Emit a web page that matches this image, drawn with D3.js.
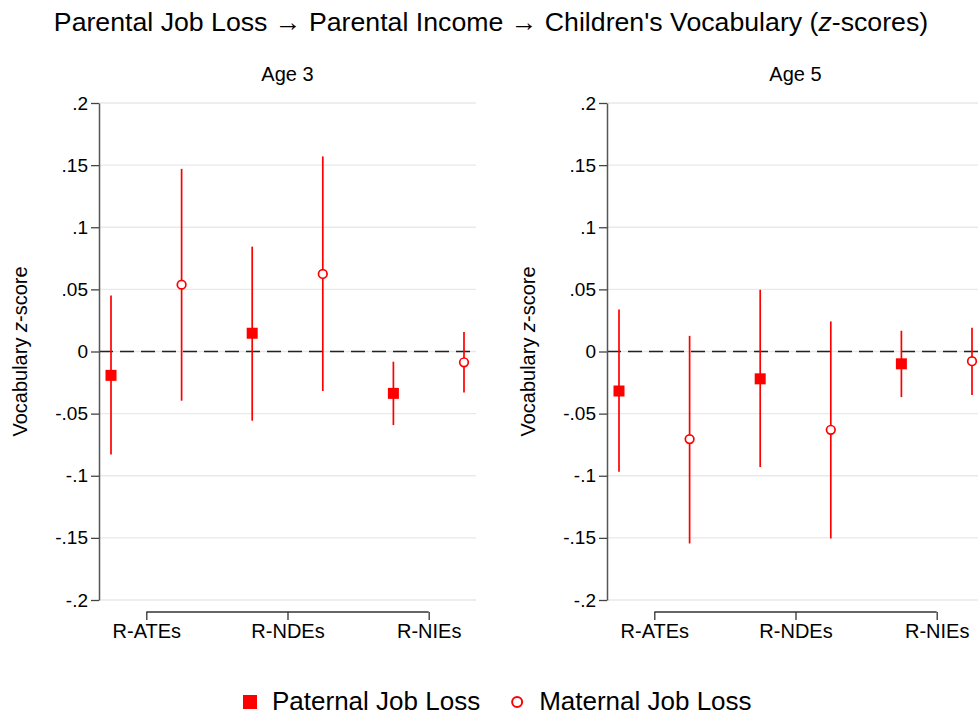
<!DOCTYPE html>
<html>
<head>
<meta charset="utf-8">
<script src="https://cdn.jsdelivr.net/npm/d3@7"></script>
<style>
body { margin: 0; background: #fff; }
text { font-family: "Liberation Sans", Arial, Helvetica, sans-serif; fill: #000; }
</style>
</head>
<body>
<svg id="chart" width="978" height="716"></svg>
<script>
// values
var panels = ["Age 3", "Age 5"];
var categories = ["R-ATEs", "R-NDEs", "R-NIEs"];
var yTicks = [-0.2, -0.15, -0.1, -0.05, 0, 0.05, 0.1, 0.15, 0.2];

var paternalEst = [[-0.0192, 0.0147, -0.0337], [-0.0318, -0.0220, -0.0099]];
var paternalLo  = [[-0.0828, -0.0557, -0.0592], [-0.0967, -0.0930, -0.0367]];
var paternalHi  = [[ 0.0450,  0.0844, -0.0082], [ 0.0338,  0.0497,  0.0167]];

var maternalEst = [[ 0.0538,  0.0624, -0.0087], [-0.0705, -0.0630, -0.0078]];
var maternalLo  = [[-0.0396, -0.0318, -0.0329], [-0.1545, -0.1505, -0.0350]];
var maternalHi  = [[ 0.1470,  0.1570,  0.0157], [ 0.0126,  0.0242,  0.0191]];

var seriesNames = ["Paternal Job Loss", "Maternal Job Loss"];

var svg = d3.select("#chart");
var red = "#ff0000";

// title
var title = svg.append("text")
	.attr("x", 491).attr("y", 31)
	.attr("text-anchor", "middle")
	.style("font-size", "26.7px")
title.append("tspan").text("Parental Job Loss \u2192 Parental Income \u2192  Children's Vocabulary (")
title.append("tspan").style("font-style", "italic").text("z")
title.append("tspan").text("-scores)")

var panelLeft = [99, 607];
var panelW = 377;
var plotTop = 103, plotBottom = 600;

var y = d3.scaleLinear().domain([-0.2, 0.2]).range([plotBottom, plotTop]);
var fmt = function(d) {
	if (Math.abs(d) < 1e-9) return "0";
	return String(+d.toFixed(2)).replace("0.", ".");
}

panels.forEach(function(p, pi) {
	var x = d3.scaleLinear().domain([0.83, 6.17]).range([panelLeft[pi], panelLeft[pi] + panelW]);
	var g = svg.append("g");

	g.append("text")
		.attr("x", (x.range()[0] + x.range()[1]) / 2).attr("y", 81)
		.attr("text-anchor", "middle")
		.style("font-size", "20px")
		.text(p)

	// grid
	g.selectAll("line.grid").data(yTicks).enter().append("line")
		.attr("class", "grid")
		.attr("x1", x.range()[0]).attr("x2", x.range()[1])
		.attr("y1", function(d) { return y(d) }).attr("y2", function(d) { return y(d) })
		.attr("stroke", "#e9e9e9")
		.attr("stroke-width", 1.3)

	// zero line
	g.append("line")
		.attr("x1", x.range()[0]).attr("x2", x.range()[1])
		.attr("y1", y(0)).attr("y2", y(0))
		.attr("stroke", "#222")
		.attr("stroke-width", 1.3)
		.attr("stroke-dasharray", "14,7")

	// y axis
	var ya = g.append("g")
		.attr("transform", "translate(" + x.range()[0] + ",0)")
		.call(d3.axisLeft(y).tickValues(yTicks).tickFormat(fmt).tickSizeInner(8).tickSizeOuter(0).tickPadding(3))
	ya.select(".domain").attr("stroke", "#555").attr("stroke-width", 1.5)
	ya.selectAll(".tick line").attr("stroke", "#444").attr("stroke-width", 1.3)
	ya.selectAll(".tick text").style("font-size", "19px").style("font-family", "Liberation Sans, Arial, sans-serif").attr("fill", "#000")

	var yl = g.append("text")
		.attr("transform", "translate(" + (x.range()[0] - 79) + "," + ((plotTop + plotBottom) / 2) + ") rotate(-90)")
		.attr("text-anchor", "middle")
		.attr("dy", "0.35em")
		.style("font-size", "20px")
	yl.append("tspan").text("Vocabulary ")
	yl.append("tspan").style("font-style", "italic").text("z")
	yl.append("tspan").text("-score")

	// x axis bracket
	var catPos = categories.map(function(c, i) { return 2 * i + 1.5 });
	var xa = g.append("g")
		.attr("transform", "translate(0,612)")
		.call(d3.axisBottom(x).tickValues(catPos).tickFormat(function(d, i) { return categories[i] }).tickSizeInner(8).tickSizeOuter(0).tickPadding(4))
	xa.select(".domain").remove()
	xa.append("line")
		.attr("x1", x(catPos[0])).attr("x2", x(catPos[catPos.length - 1]))
		.attr("stroke", "#333").attr("stroke-width", 1.3)
	xa.selectAll(".tick line").attr("stroke", "#333").attr("stroke-width", 1.3)
	xa.selectAll(".tick text").style("font-size", "20px").style("font-family", "Liberation Sans, Arial, sans-serif").attr("fill", "#000")

	// data rows
	var rows = [];
	categories.forEach(function(c, i) {
		rows.push({ s: 0, pos: 2 * i + 1, est: paternalEst[pi][i], lo: paternalLo[pi][i], hi: paternalHi[pi][i] })
		rows.push({ s: 1, pos: 2 * i + 2, est: maternalEst[pi][i], lo: maternalLo[pi][i], hi: maternalHi[pi][i] })
	})

	g.selectAll("line.ci").data(rows).enter().append("line")
		.attr("class", "ci")
		.attr("x1", function(d) { return x(d.pos) }).attr("x2", function(d) { return x(d.pos) })
		.attr("y1", function(d) { return y(d.lo) }).attr("y2", function(d) { return y(d.hi) })
		.attr("stroke", red)
		.attr("stroke-width", 1.7)

	g.selectAll("rect.pt").data(rows.filter(function(d) { return d.s == 0 })).enter().append("rect")
		.attr("class", "pt")
		.attr("x", function(d) { return x(d.pos) - 5.5 }).attr("y", function(d) { return y(d.est) - 5.5 })
		.attr("width", 11).attr("height", 11)
		.attr("fill", red)

	g.selectAll("circle.pt").data(rows.filter(function(d) { return d.s == 1 })).enter().append("circle")
		.attr("class", "pt")
		.attr("cx", function(d) { return x(d.pos) }).attr("cy", function(d) { return y(d.est) })
		.attr("r", 4.3)
		.attr("fill", "#fff")
		.attr("stroke", red)
		.attr("stroke-width", 1.7)
})

// legend
var lg = svg.append("g")
var l1 = lg.append("text").attr("x", 272).attr("y", 710).style("font-size", "26px").text(seriesNames[0])
lg.append("rect").attr("x", 243).attr("y", 695).attr("width", 14).attr("height", 14).attr("fill", red)
var w1 = l1.node().getComputedTextLength();
var cx = 272 + w1 + 37;
lg.append("circle").attr("cx", cx).attr("cy", 702).attr("r", 5).attr("fill", "#fff").attr("stroke", red).attr("stroke-width", 2)
lg.append("text").attr("x", cx + 22).attr("y", 710).style("font-size", "26px").text(seriesNames[1])
</script>
</body>
</html>
